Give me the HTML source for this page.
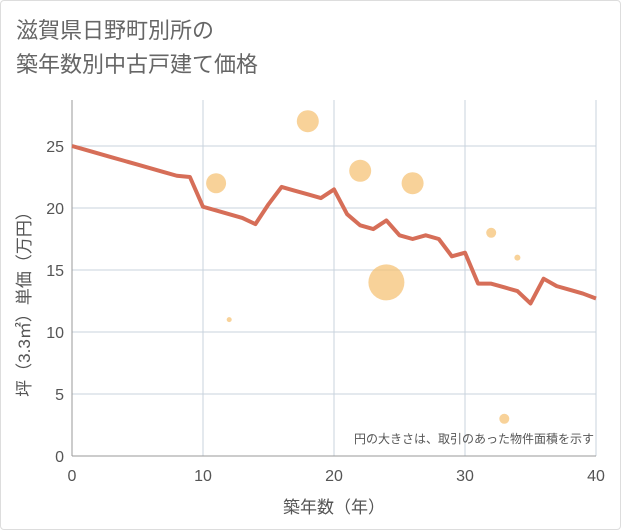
<!DOCTYPE html>
<html><head><meta charset="utf-8">
<style>
body{margin:0;background:#fff;font-family:"Liberation Sans","Noto Sans CJK JP",sans-serif;}
#wrap{position:relative;width:621px;height:530px;background:#fff;}
.frame{position:absolute;left:0;top:0;width:619px;height:528px;border:1px solid #ddd;border-radius:4px;}
.title{position:absolute;left:16px;top:14px;font-size:22px;line-height:34px;color:#666;}
</style></head><body>
<div id="wrap">
<div class="frame"></div>
<div class="title">滋賀県日野町別所の<br>築年数別中古戸建て価格</div>
<svg id="chart" width="621" height="530" style="position:absolute;left:0;top:0"></svg>
</div>
<script>
const xTicks=[0,10,20,30,40];
const yTicks=[0,5,10,15,20,25];
const lineX=[0,1,2,3,4,5,6,7,8,9,10,11,12,13,14,15,16,17,18,19,20,21,22,23,24,25,26,27,28,29,30,31,32,33,34,35,36,37,38,39,40];
const lineY=[25,24.7,24.4,24.1,23.8,23.5,23.2,22.9,22.6,22.5,20.1,19.8,19.5,19.2,18.7,20.3,21.7,21.4,21.1,20.8,21.5,19.5,18.6,18.3,19.0,17.8,17.5,17.8,17.5,16.1,16.4,13.9,13.9,13.6,13.3,12.3,14.3,13.7,13.4,13.1,12.7];
const bubX=[11,12,18,22,24,26,32,34,33];
const bubY=[22,11,27,23,14,22,18,16,3];
const bubR=[10,2.5,11,11,18,11,5,3,5];
const svg=document.getElementById('chart');
const NS='http://www.w3.org/2000/svg';
const X0=72,X1=596,Y0=456,Y1=146;
const sx=v=>X0+(v-0)/40*(X1-X0);
const sy=v=>Y0-(v/25)*(Y0-Y1);
function mk(t,a){const e=document.createElementNS(NS,t);for(const k in a)e.setAttribute(k,a[k]);svg.appendChild(e);return e;}
let e=mk('rect',{x:X0,y:100,width:X1-X0,height:Y0-100,fill:'#fff'});


xTicks.forEach(t=>{let l=mk('line',{x1:sx(t),x2:sx(t),y1:100,y2:Y0,stroke:'#c9d3dd','stroke-width':1});


let tx=mk('text',{x:sx(t),y:481,'text-anchor':'middle','font-size':16,fill:'#555'});tx.textContent=t;

});
yTicks.forEach(t=>{let l=mk('line',{x1:X0,x2:X1,y1:sy(t),y2:sy(t),stroke:'#c9d3dd','stroke-width':1});


let tx=mk('text',{x:64,y:sy(t)+6,'text-anchor':'end','font-size':16,fill:'#555'});tx.textContent=t;

});
let ax=mk('line',{x1:X0,x2:X1,y1:Y0,y2:Y0,stroke:'#999'});


let ay=mk('line',{x1:X0,x2:X0,y1:100,y2:Y0,stroke:'#999'});


bubX.forEach((v,i)=>{let c=mk('circle',{cx:sx(v),cy:sy(bubY[i]),r:bubR[i],fill:'#f5bf6e','fill-opacity':0.7});

});
let pl=mk('polyline',{points:lineX.map((v,i)=>sx(v)+','+sy(lineY[i])).join(' '),fill:'none',stroke:'#d66e58','stroke-width':4,'stroke-linejoin':'round'});


let n=mk('text',{x:594,y:443,'text-anchor':'end','font-size':12,fill:'#555'});n.textContent='円の大きさは、取引のあった物件面積を示す';


let xt=mk('text',{x:334,y:513,'text-anchor':'middle','font-size':17,fill:'#555'});xt.textContent='築年数（年）';


let yt=mk('text',{x:0,y:0,'text-anchor':'middle','font-size':17,fill:'#555',transform:'translate(30,300) rotate(-90)'});yt.textContent='坪（3.3㎡）単価（万円）';


</script>
</body></html>
